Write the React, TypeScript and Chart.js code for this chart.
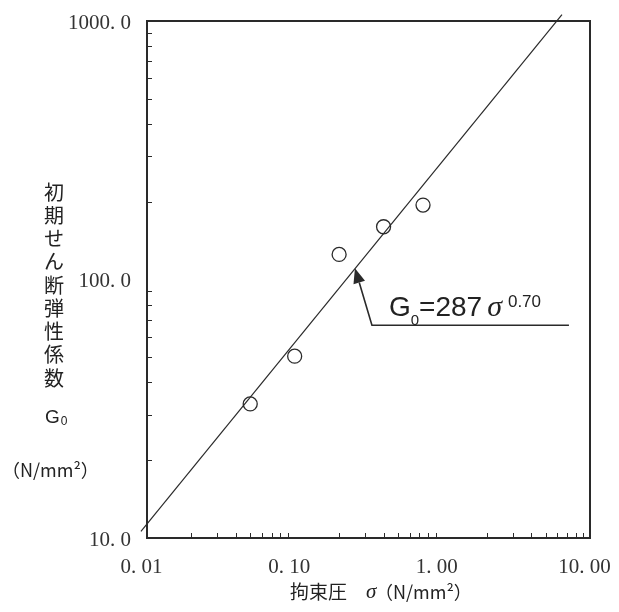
import React, { useEffect, useRef } from 'react';
import { Chart, registerables } from 'chart.js';

Chart.register(...registerables);

// Measured points: confining pressure σ (N/mm²) vs. initial shear modulus G0 (N/mm²)
const sigma = [0.05, 0.1, 0.2, 0.4, 0.74];
const g0 = [33, 50.5, 125, 160, 194];

// Fitted line G0 = 287 σ^0.70, end points
const fitSigma = [0.0091, 6.46];
const fitG0 = [10.6, 1059];

// Axes
const xTickValues = [0.01, 0.1, 1, 10];
const xTickLabels = ['0. 01', '0. 10', '1. 00', '10. 00'];
const yTickValues = [10, 100, 1000];
const yTickLabels = ['10. 0', '100. 0', '1000. 0'];
const xDecades = [0.01, 0.1, 1];
const yDecades = [10, 100];

// Titles
const yTitleChars = ['初', '期', 'せ', 'ん', '断', '弾', '性', '係', '数'];
const yTitleSymbol = 'G';
const yTitleSub = '0';
const yTitleUnit = '（N/mm²）';
const xTitleMain = '拘束圧';
const xTitleSymbol = 'σ';
const xTitleUnit = '（N/mm²）';

// Equation annotation (anchored on the fitted line)
const annotationAt = { x: 0.256, y: 110.6 };
const eqParts = { g: 'G', sub: '0', body: '=287', sigma: 'σ', exp: '0.70' };

const INK = '#2a2a2a';

const decorPlugin = {
  id: 'decor',
  afterDraw(chart: any) {
    const { ctx, chartArea: a } = chart;
    const xs = chart.scales.x;
    const ys = chart.scales.y;
    ctx.save();

    // frame
    ctx.strokeStyle = INK;
    ctx.lineWidth = 2;
    ctx.strokeRect(a.left, a.top, a.right - a.left, a.bottom - a.top);

    // inward minor ticks
    ctx.lineWidth = 1;
    ctx.beginPath();
    for (const d of xDecades) {
      for (let m = 2; m <= 9; m++) {
        const px = Math.round(xs.getPixelForValue(m * d)) + 0.5;
        ctx.moveTo(px, a.bottom);
        ctx.lineTo(px, a.bottom - 5);
      }
    }
    for (const d of yDecades) {
      for (let m = 2; m <= 9; m++) {
        const py = Math.round(ys.getPixelForValue(m * d)) + 0.5;
        ctx.moveTo(a.left, py);
        ctx.lineTo(a.left + 5, py);
      }
    }
    ctx.stroke();

    // tick labels
    ctx.fillStyle = '#333';
    ctx.font = '21px "Liberation Serif"';
    ctx.textBaseline = 'middle';
    ctx.textAlign = 'right';
    yTickValues.forEach((v, i) => {
      ctx.fillText(yTickLabels[i], 131, ys.getPixelForValue(v) + 2);
    });
    ctx.textAlign = 'center';
    xTickValues.forEach((v, i) => {
      ctx.fillText(xTickLabels[i], xs.getPixelForValue(v) - 5.5, 567);
    });

    // y title (stacked characters)
    ctx.fillStyle = '#222';
    ctx.font = '20px "Noto Sans CJK JP"';
    ctx.textAlign = 'center';
    ctx.textBaseline = 'middle';
    yTitleChars.forEach((c, i) => {
      ctx.fillText(c, 54, 192 + i * 23.25);
    });
    ctx.textAlign = 'left';
    ctx.textBaseline = 'alphabetic';
    ctx.font = '19px "Liberation Sans"';
    ctx.fillText(yTitleSymbol, 45, 423);
    const gw = ctx.measureText(yTitleSymbol).width;
    ctx.font = '12px "Liberation Sans"';
    ctx.fillText(yTitleSub, 45 + gw + 1, 425);
    ctx.font = '18px "Noto Sans CJK JP"';
    ctx.textBaseline = 'middle';
    ctx.fillText(yTitleUnit, 2, 470);

    // x title
    ctx.font = '19px "Noto Sans CJK JP"';
    ctx.fillText(xTitleMain, 290, 592);
    ctx.font = 'italic 21px "Liberation Serif"';
    ctx.fillText(xTitleSymbol, 366, 592);
    ctx.font = '18px "Noto Sans CJK JP"';
    ctx.fillText(xTitleUnit, 375, 592);

    // annotation: arrow + leader + equation
    const tx = xs.getPixelForValue(annotationAt.x);
    const ty = ys.getPixelForValue(annotationAt.y);
    const bx = tx + 17;
    const by = ty + 57;
    const dx = tx - bx;
    const dy = ty - by;
    const len = Math.hypot(dx, dy);
    const ux = dx / len;
    const uy = dy / len;
    const hl = 15;
    const hw = 6;
    const hbx = tx - ux * hl;
    const hby = ty - uy * hl;
    ctx.strokeStyle = INK;
    ctx.fillStyle = INK;
    ctx.lineWidth = 1.6;
    ctx.beginPath();
    ctx.moveTo(tx + 214, by);
    ctx.lineTo(bx, by);
    ctx.lineTo(hbx, hby);
    ctx.stroke();
    ctx.beginPath();
    ctx.moveTo(tx, ty);
    ctx.lineTo(hbx - uy * hw, hby + ux * hw);
    ctx.lineTo(hbx + uy * hw, hby - ux * hw);
    ctx.closePath();
    ctx.fill();

    ctx.fillStyle = '#222';
    ctx.textAlign = 'left';
    ctx.textBaseline = 'alphabetic';
    let cx = tx + 34;
    const base = ty + 48;
    ctx.font = '28px "Liberation Sans"';
    ctx.fillText(eqParts.g, cx, base);
    cx += ctx.measureText(eqParts.g).width;
    ctx.font = '15px "Liberation Sans"';
    ctx.fillText(eqParts.sub, cx, base + 9);
    cx += ctx.measureText(eqParts.sub).width;
    ctx.font = '28px "Liberation Sans"';
    ctx.fillText(eqParts.body, cx, base);
    cx += ctx.measureText(eqParts.body).width + 5;
    ctx.font = 'italic 30px "Liberation Serif"';
    ctx.fillText(eqParts.sigma, cx, base);
    cx += ctx.measureText(eqParts.sigma).width + 6;
    ctx.font = '17px "Liberation Sans"';
    ctx.fillText(eqParts.exp, cx, base - 9);

    ctx.restore();
  },
};

export default function App() {
  const ref = useRef<HTMLCanvasElement | null>(null);

  useEffect(() => {
    if (!ref.current) return;
    const chart = new Chart(ref.current, {
      type: 'scatter',
      data: {
        datasets: [
          {
            type: 'line',
            data: fitSigma.map((x, i) => ({ x, y: fitG0[i] })),
            borderColor: INK,
            borderWidth: 1.2,
            pointRadius: 0,
            fill: false,
            tension: 0,
            clip: false,
            order: 2,
          } as any,
          {
            type: 'scatter',
            data: sigma.map((x, i) => ({ x, y: g0[i] })),
            pointStyle: 'circle',
            pointRadius: 7,
            borderColor: INK,
            borderWidth: 1.3,
            backgroundColor: 'rgba(0,0,0,0)',
            order: 1,
          } as any,
        ],
      },
      options: {
        responsive: false,
        animation: false,
        devicePixelRatio: 1,
        layout: { padding: { left: 147, right: 29, top: 21, bottom: 74 } },
        plugins: { legend: { display: false }, tooltip: { enabled: false } },
        scales: {
          x: { type: 'logarithmic', min: 0.01, max: 10, display: false },
          y: { type: 'logarithmic', min: 10, max: 1000, display: false },
        },
      },
      plugins: [decorPlugin],
    });
    return () => chart.destroy();
  }, []);

  return (
    <div style={{ position: 'absolute', left: 0, top: 0, width: 619, height: 612, background: '#fff' }}>
      <canvas ref={ref} width={619} height={612} />
    </div>
  );
}
